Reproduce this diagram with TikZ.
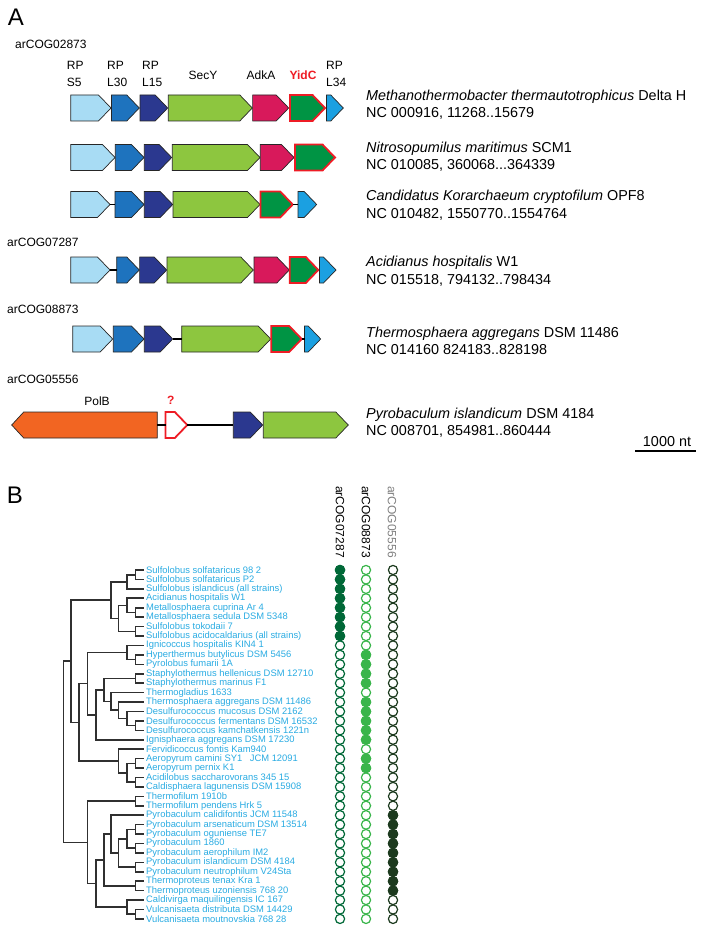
\documentclass[tikz,border=0pt]{standalone}
\usepackage{fontspec}
\setmainfont{Liberation Sans}
\usetikzlibrary{calc}
\definecolor{cS5}{HTML}{A8DCF4}
\definecolor{cL30}{HTML}{1E73BE}
\definecolor{cL15}{HTML}{2B388F}
\definecolor{cSecY}{HTML}{8DC63F}
\definecolor{cAdk}{HTML}{D8195B}
\definecolor{cYid}{HTML}{009444}
\definecolor{cLtf}{HTML}{1BA0E1}
\definecolor{cPol}{HTML}{F26522}
\definecolor{cRed}{HTML}{EE1C25}
\definecolor{cLeaf}{HTML}{29ABE2}
\definecolor{cCa}{HTML}{006837}
\definecolor{cCb}{HTML}{39B54A}
\definecolor{cCc}{HTML}{1C3A1E}
\definecolor{cTree}{HTML}{303030}
\newcommand{\garrow}[5][]{%
  \pgfmathsetmacro{\gtip}{max(#3,#4-12.5)}%
  \coordinate (#2-w) at (#3,#5);
  \coordinate (#2-e) at (#4,#5);
  \draw[genebox,#1] (#3,#5-13) -- (\gtip,#5-13) -- (#4,#5) -- (\gtip,#5+13) -- (#3,#5+13) -- cycle;}
\newcommand{\garrowL}[5][]{%
  \pgfmathsetmacro{\gtip}{min(#4,#3+12)}%
  \coordinate (#2-w) at (#3,#5);
  \coordinate (#2-e) at (#4,#5);
  \draw[genebox,#1] (#4,#5-13) -- (\gtip,#5-13) -- (#3,#5) -- (\gtip,#5+13) -- (#4,#5+13) -- cycle;}
\newcommand{\tjoin}[4]{%
  \coordinate (#1-m) at ($(#3)!0.5!(#4)$);
  \coordinate (#1) at (#2,0 |- #1-m);
  \draw[treeline] (#3) -| (#1);
  \draw[treeline] (#4) -| (#1);}
\begin{document}
\begin{tikzpicture}[x=1pt,y=-1pt,
  genebox/.style={draw=black!85, line width=0.7pt, line join=miter},
  yid/.style={fill=cYid, draw=cRed, line width=1.8pt},
  unk/.style={fill=white, draw=cRed, line width=1.8pt},
  link/.style={line width=1.6pt, black},
  treeline/.style={draw=cTree, line width=1.6pt, line cap=rect},
  genelbl/.style={font=\fontsize{12}{17}\selectfont, inner sep=0pt, align=left},
  cog/.style={font=\fontsize{12}{14}\selectfont, inner sep=0pt, anchor=west},
  sp/.style={font=\fontsize{14.4}{17.5}\selectfont, inner sep=0pt, anchor=west, align=left},
  leaflbl/.style={font=\fontsize{9.4}{9.4}\selectfont, text=cLeaf, inner sep=0pt, anchor=west},
  panel/.style={font=\fontsize{24}{24}\selectfont, inner sep=0pt},
  hdr/.style={font=\fontsize{12}{14}\selectfont, inner sep=0pt, rotate=-90}]
\useasboundingbox (0,0) rectangle (704,931);

% ---------------- Panel A ----------------
\node[panel] (pA) at (16,17) {A};
\node[cog] (cog1) at (15,44) {arCOG02873};
\node[genelbl, anchor=west] (g1) at (66.7,73.5) {RP\\S5};
\node[genelbl, anchor=west] (g2) at (107,73.5) {RP\\L30};
\node[genelbl, anchor=west] (g3) at (142,73.5) {RP\\L15};
\node[genelbl] (g4) at (203,75) {SecY};
\node[genelbl] (g5) at (261,75) {AdkA};
\node[genelbl, text=cRed, font=\fontsize{12}{17}\selectfont\bfseries] (g6) at (303,75) {YidC};
\node[genelbl, anchor=west] (g7) at (326,73.5) {RP\\L34};

% row 1
\garrow[fill=cS5]{a1}{70.7}{111}{108}
\garrow[fill=cL30]{a2}{111.5}{139.3}{108}
\garrow[fill=cL15]{a3}{140}{167.7}{108}
\garrow[fill=cSecY]{a4}{168.3}{252.3}{108}
\garrow[fill=cAdk]{a5}{252.6}{288.7}{108}
\garrow[yid]{a6}{290}{325}{108}
\garrow[fill=cLtf]{a7}{326.5}{343.3}{108}
% row 2
\garrow[fill=cS5]{b1}{70.7}{115}{157.5}
\garrow[fill=cL30]{b2}{115.3}{144}{157.5}
\garrow[fill=cL15]{b3}{144.3}{171.7}{157.5}
\garrow[fill=cSecY]{b4}{172.3}{260}{157.5}
\garrow[fill=cAdk]{b5}{260.3}{294}{157.5}
\garrow[yid]{b6}{295}{335}{157.5}
% row 3
\garrow[fill=cS5]{c1}{70.7}{110}{204.5}
\garrow[fill=cL30]{c2}{115}{144}{204.5}
\garrow[fill=cL15]{c3}{144.3}{172.7}{204.5}
\garrow[fill=cSecY]{c4}{173}{260}{204.5}
\garrow[yid]{c5}{260.5}{292.7}{204.5}
\garrow[fill=cLtf]{c6}{298}{316.7}{204.5}
\draw[link] (c1-e) -- (c2-w);
\draw[link] (c5-e) -- (c6-w);
% row 4
\node[cog] (cog2) at (7,242.7) {arCOG07287};
\garrow[fill=cS5]{d1}{70.7}{110}{270}
\garrow[fill=cL30]{d2}{116.7}{139.3}{270}
\garrow[fill=cL15]{d3}{139.6}{166.7}{270}
\garrow[fill=cSecY]{d4}{167}{253.3}{270}
\garrow[fill=cAdk]{d5}{254}{289.3}{270}
\garrow[yid]{d6}{289.8}{318.3}{270}
\garrow[fill=cLtf]{d7}{319.5}{336}{270}
\draw[link] (d1-e) -- (d2-w);
% row 5
\node[cog] (cog3) at (7,309.3) {arCOG08873};
\garrow[fill=cS5]{e1}{72.7}{112.7}{339}
\garrow[fill=cL30]{e2}{113.3}{144}{339}
\garrow[fill=cL15]{e3}{144.3}{172.7}{339}
\garrow[fill=cSecY]{e4}{181.7}{270.7}{339}
\garrow[yid]{e5}{271.2}{301.7}{339}
\garrow[fill=cLtf]{e6}{304.5}{320.7}{339}
\draw[link] (e3-e) -- (e4-w);
\draw[link] (e5-e) -- (e6-w);
% row 6
\node[cog] (cog4) at (7,379.3) {arCOG05556};
\node[genelbl] (polbl) at (97,401.7) {PolB};
\node[genelbl, text=cRed, font=\fontsize{12}{17}\selectfont\bfseries] (qlbl) at (170.7,400) {?};
\garrowL[fill=cPol]{f1}{11.7}{157.3}{425}
\garrow[unk]{f2}{165.5}{187.3}{425}
\garrow[fill=cL15]{f3}{233.3}{262.7}{425}
\garrow[fill=cSecY]{f4}{263.3}{348.3}{425}
\draw[link] (f1-e) -- (f2-w);
\draw[link] (f2-e) -- (f3-w);

% species texts
\node[sp] (s1) at (366,104.7) {\textit{Methanothermobacter thermautotrophicus} Delta H\\NC 000916, 11268..15679};
\node[sp] (s2) at (366,156.7) {\textit{Nitrosopumilus maritimus} SCM1\\NC 010085, 360068...364339};
\node[sp] (s3) at (366,205.3) {\textit{Candidatus Korarchaeum cryptofilum} OPF8\\NC 010482, 1550770..1554764};
\node[sp] (s4) at (366,271.3) {\textit{Acidianus hospitalis} W1\\NC 015518, 794132..798434};
\node[sp] (s5) at (366,341) {\textit{Thermosphaera aggregans} DSM 11486\\NC 014160 824183..828198};
\node[sp] (s6) at (366,422.8) {\textit{Pyrobaculum islandicum} DSM 4184\\NC 008701, 854981..860444};

% scale bar
\node[font=\fontsize{14.4}{16}\selectfont, inner sep=0pt] (sbl) at (667,441.7) {1000 nt};
\coordinate (sbA) at (635.3,451);
\coordinate (sbB) at (696,451);
\draw[line width=2pt] (sbA) -- (sbB);

% ---------------- Panel B ----------------
\node[panel] (pB) at (15,495) {B};
\node[hdr] (h1) at (340,522) {arCOG07287};
\node[hdr] (h2) at (366,522) {arCOG08873};
\node[hdr, text=black!50] (h3) at (392,522) {arCOG05556};

\foreach \i/\t in {1/{Sulfolobus solfataricus 98 2},
 2/{Sulfolobus solfataricus P2},
 3/{Sulfolobus islandicus (all strains)},
 4/{Acidianus hospitalis W1},
 5/{Metallosphaera cuprina Ar 4},
 6/{Metallosphaera sedula DSM 5348},
 7/{Sulfolobus tokodaii 7},
 8/{Sulfolobus acidocaldarius (all strains)},
 9/{Ignicoccus hospitalis KIN4 1},
 10/{Hyperthermus butylicus DSM 5456},
 11/{Pyrolobus fumarii 1A},
 12/{Staphylothermus hellenicus DSM 12710},
 13/{Staphylothermus marinus F1},
 14/{Thermogladius 1633},
 15/{Thermosphaera aggregans DSM 11486},
 16/{Desulfurococcus mucosus DSM 2162},
 17/{Desulfurococcus fermentans DSM 16532},
 18/{Desulfurococcus kamchatkensis 1221n},
 19/{Ignisphaera aggregans DSM 17230},
 20/{Fervidicoccus fontis Kam940},
 21/{Aeropyrum camini SY1\hspace{0.8em}JCM 12091},
 22/{Aeropyrum pernix K1},
 23/{Acidilobus saccharovorans 345 15},
 24/{Caldisphaera lagunensis DSM 15908},
 25/{Thermofilum 1910b},
 26/{Thermofilum pendens Hrk 5},
 27/{Pyrobaculum calidifontis JCM 11548},
 28/{Pyrobaculum arsenaticum DSM 13514},
 29/{Pyrobaculum oguniense TE7},
 30/{Pyrobaculum 1860},
 31/{Pyrobaculum aerophilum IM2},
 32/{Pyrobaculum islandicum DSM 4184},
 33/{Pyrobaculum neutrophilum V24Sta},
 34/{Thermoproteus tenax Kra 1},
 35/{Thermoproteus uzoniensis 768 20},
 36/{Caldivirga maquilingensis IC 167},
 37/{Vulcanisaeta distributa DSM 14429},
 38/{Vulcanisaeta moutnovskia 768 28}}{
  \pgfmathsetmacro{\yy}{570+(\i-1)*9.43}
  \coordinate (l\i) at (143,\yy);
  \node[leaflbl] (t\i) at (146,\yy) {\t};
}

% tree
\tjoin{n12}{135.5}{l1}{l2}
\tjoin{n123}{127}{n12}{l3}
\tjoin{n56}{135.5}{l5}{l6}
\tjoin{n456}{127}{l4}{n56}
\tjoin{n78}{135.5}{l7}{l8}
\tjoin{n48}{118.5}{n456}{n78}
\tjoin{nS}{111}{n123}{n48}
\tjoin{n1011}{135.5}{l10}{l11}
\tjoin{nI}{127}{l9}{n1011}
\tjoin{n1213}{135.5}{l12}{l13}
\tjoin{n1718}{135.5}{l17}{l18}
\tjoin{n1618}{127}{l16}{n1718}
\tjoin{n1518}{118.5}{l15}{n1618}
\tjoin{n1418}{111}{l14}{n1518}
\tjoin{n1218}{104}{n1213}{n1418}
\tjoin{n1219}{95.7}{n1218}{l19}
\tjoin{nD}{87.3}{nI}{n1219}
\tjoin{n2122}{135.5}{l21}{l22}
\tjoin{n2324}{135.5}{l23}{l24}
\tjoin{n2124}{127}{n2122}{n2324}
\tjoin{n2024}{118.5}{l20}{n2124}
\tjoin{nC}{79}{nD}{n2024}
\tjoin{nT}{71}{nS}{nC}
\tjoin{n2526}{135.5}{l25}{l26}
\tjoin{n2829}{135.5}{l28}{l29}
\tjoin{n3031}{135.5}{l30}{l31}
\tjoin{n2831}{127}{n2829}{n3031}
\tjoin{n3233}{135.5}{l32}{l33}
\tjoin{n2833}{118.5}{n2831}{n3233}
\tjoin{n2733}{111}{l27}{n2833}
\tjoin{n3435}{135.5}{l34}{l35}
\tjoin{n2735}{104}{n2733}{n3435}
\tjoin{n3738}{135.5}{l37}{l38}
\tjoin{n3638}{127}{l36}{n3738}
\tjoin{n2738}{95.7}{n2735}{n3638}
\tjoin{n2538}{87.3}{n2526}{n2738}
\tjoin{root}{63.3}{nT}{n2538}

% presence circles
\foreach \i in {1,...,38}{
  \pgfmathsetmacro{\yy}{570+(\i-1)*9.43}
  \draw[cCa, line width=1.2pt] (340,\yy) circle[radius=4.6];
  \draw[cCb, line width=1.2pt] (366,\yy) circle[radius=4.6];
  \draw[cCc, line width=1.2pt] (393,\yy) circle[radius=4.6];
}
\foreach \i in {1,...,8}{
  \pgfmathsetmacro{\yy}{570+(\i-1)*9.43}
  \filldraw[cCa, line width=1.2pt] (340,\yy) circle[radius=4.6];
}
\foreach \i in {10,11,12,13,15,16,17,18,19,21,22}{
  \pgfmathsetmacro{\yy}{570+(\i-1)*9.43}
  \filldraw[cCb, line width=1.2pt] (366,\yy) circle[radius=4.6];
}
\foreach \i in {27,...,35}{
  \pgfmathsetmacro{\yy}{570+(\i-1)*9.43}
  \filldraw[cCc, line width=1.2pt] (393,\yy) circle[radius=4.6];
}
\end{tikzpicture}
\end{document}
